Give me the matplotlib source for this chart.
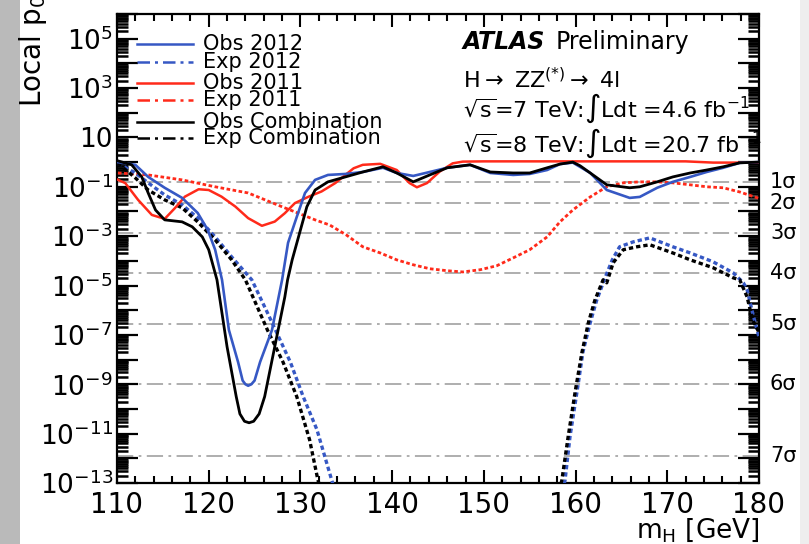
import numpy as np
import matplotlib
matplotlib.use("Agg")
import matplotlib.pyplot as plt
from matplotlib.ticker import FixedLocator, FuncFormatter, LogLocator, MultipleLocator, NullFormatter
from matplotlib.lines import Line2D
from matplotlib.patches import Rectangle

plt.rcParams['font.family'] = ['DejaVu Sans']
plt.rcParams['mathtext.default'] = 'regular'

# ---------------- data (log10 of local p0) ----------------
obs2012_m = [110.1, 112.0, 113.4, 115.2, 117.1, 118.8, 119.9, 120.7, 121.45, 122.2, 123.2, 123.7,
             124.0, 124.3, 124.65, 125.0, 125.6, 126.9, 128.0, 128.65, 129.6, 130.5, 131.6, 133.0,
             134.9, 136.8, 139.0, 140.5, 142.3, 144.1, 146.0, 148.5, 150.7, 153.2, 155.0, 156.9,
             158.3, 159.7, 161.6, 163.4, 165.9, 167.0, 168.9, 170.6, 172.5, 174.3, 176.1, 177.9,
             180.0]
obs2012_lp = [0.0, -0.11, -0.6, -1.04, -1.45, -2.06, -2.75, -3.55, -4.77, -6.8, -8.1, -8.85,
              -9.0, -9.06, -9.0, -8.85, -8.1, -6.8, -4.77, -3.27, -2.22, -1.25, -0.72, -0.52,
              -0.48, -0.40, -0.23, -0.44, -0.56, -0.40, -0.23, -0.11, -0.44, -0.52, -0.48, -0.32,
              -0.08, -0.02, -0.44, -1.13, -1.45, -1.41, -1.04, -0.8, -0.6, -0.4, -0.23, -0.03,
              0.0]

exp2012_m = [110.1, 112.0, 113.4, 115.2, 117.1, 118.8, 120.7, 122.5, 124.7, 126.4, 127.4, 128.9,
             130.3, 131.8, 133.4, 134.0,
             None,
             158.3, 158.85, 159.4, 160.2, 160.8, 161.6, 162.3, 163.2, 164.0, 164.8, 166.3, 168.1,
             170.6, 172.5, 175.0, 177.2, 178.3, 178.7, 179.3, 180.0]
exp2012_lp = [-0.05, -0.44, -0.84, -1.33, -1.73, -2.26, -3.03, -3.84, -4.77, -6.1, -6.9, -8.1,
              -9.5, -10.84, -12.87, -13.6,
              None,
              -13.6, -12.9, -11.1, -9.2, -7.7, -6.5, -5.6, -4.7, -3.96, -3.43, -3.23, -3.07,
              -3.43, -3.68, -4.04, -4.49, -4.89, -5.17, -6.1, -7.1]

obs2011_m = [110.0, 110.9, 112.3, 113.8, 115.2, 116.3, 117.4, 118.9, 120.0, 121.4, 122.9, 124.3,
             125.8, 127.2, 128.3, 129.4, 130.9, 132.3, 133.8, 134.9, 135.8, 136.8, 138.7, 140.5,
             141.9, 142.7, 143.8, 145.2, 146.6, 147.7, 150.0, 160.0, 172.0, 175.0, 180.0]
obs2011_lp = [-0.7, -0.85, -1.53, -2.14, -2.30, -1.87, -1.40, -1.10, -1.13, -1.40, -1.80, -2.27,
              -2.58, -2.41, -2.07, -1.66, -1.40, -1.19, -0.85, -0.52, -0.25, -0.11, -0.07, -0.32,
              -0.85, -1.02, -0.85, -0.38, -0.05, 0.02, 0.03, 0.03, 0.03, -0.02, -0.02]

exp2011_m = [110.1, 113.4, 117.1, 120.7, 124.3, 128.0, 131.6, 133.2, 135.0, 136.8, 138.7, 140.5,
             142.3, 144.1, 146.0, 147.7, 149.6, 151.4, 153.2, 155.0, 156.9, 158.3, 159.7, 161.6,
             163.4, 165.2, 167.0, 168.9, 170.6, 172.5, 174.3, 176.1, 177.9, 180.0]
exp2011_lp = [-0.44, -0.52, -0.72, -1.0, -1.25, -1.81, -2.34, -2.55, -2.95, -3.43, -3.68, -3.96,
              -4.16, -4.32, -4.40, -4.45, -4.36, -4.20, -3.88, -3.55, -3.03, -2.42, -1.94, -1.41,
              -1.0, -0.84, -0.80, -0.80, -0.84, -0.92, -1.0, -1.04, -1.21, -1.47]

obscomb_m = [110.1, 111.6, 112.7, 113.4, 114.2, 115.2, 117.1, 118.2, 119.3, 120.0, 120.9, 122.0,
             123.0, 123.4, 123.9, 124.4, 124.9, 125.5, 126.1, 127.2, 128.3, 128.6, 129.1, 130.0,
             130.7, 131.6, 133.0, 134.9, 136.8, 139.0, 140.5, 142.3, 144.1, 146.0, 148.5, 150.7,
             153.2, 155.0, 156.9, 158.3, 159.7, 160.5, 161.6, 163.4, 165.9, 167.0, 168.9, 170.6,
             172.5, 174.3, 176.1, 177.9, 180.0]
obscomb_lp = [0.05, -0.11, -0.6, -1.25, -1.94, -2.34, -2.42, -2.62, -3.03, -3.55, -4.77, -7.48,
              -9.5, -10.2, -10.5, -10.56, -10.5, -10.2, -9.5, -7.48, -5.46, -4.77, -3.96, -2.75,
              -1.81, -1.13, -0.8, -0.6, -0.4, -0.19, -0.44, -0.8, -0.52, -0.23, -0.11, -0.4,
              -0.44, -0.44, -0.23, -0.08, 0.0, -0.15, -0.44, -0.92, -1.04, -1.0, -0.8, -0.6,
              -0.44, -0.32, -0.19, -0.03, 0.0]

expcomb_m = [110.1, 112.0, 113.4, 115.2, 117.1, 118.8, 120.7, 122.5, 124.0, 126.4, 128.1, 129.6,
             131.0, 131.9, 132.5,
             None,
             158.0, 158.5, 159.2, 160.0, 160.7, 161.4, 162.1, 163.0, 163.4, 164.1, 165.2, 166.7,
             168.1, 170.6, 172.5, 175.0, 177.2, 177.9, 178.7, 179.3, 180.0]
expcomb_lp = [-0.05, -0.64, -1.13, -1.53, -1.85, -2.42, -3.15, -3.96, -4.77, -6.8, -8.1, -9.5,
              -11.25, -12.87, -13.6,
              None,
              -13.6, -12.9, -11.1, -9.2, -7.7, -6.5, -5.6, -4.77, -4.89, -4.08, -3.55, -3.43,
              -3.35, -3.68, -3.96, -4.28, -4.69, -4.77, -5.46, -6.4, -6.9]

sigma_labels = ['1σ', '2σ', '3σ', '4σ', '5σ', '6σ', '7σ']
sigma_p = [0.1587, 0.02275, 1.35e-3, 3.17e-5, 2.87e-7, 9.87e-10, 1.28e-12]

xticks = [110, 120, 130, 140, 150, 160, 170, 180]
legend_labels = ['Obs 2012', 'Exp 2012', 'Obs 2011', 'Exp 2011', 'Obs Combination', 'Exp Combination']


def to_p(lps):
    return [np.nan if v is None else 10.0 ** v for v in lps]


def to_m(ms):
    return [np.nan if v is None else v for v in ms]


# ---------------- figure ----------------
W, H = 809, 544
fig = plt.figure(figsize=(W / 100, H / 100), dpi=100)
fig.patch.set_facecolor('white')


def fx(x):
    return x / W


def fy(y):
    return 1 - y / H


fig.patches.append(Rectangle((0, 0), fx(20), 1, transform=fig.transFigure, facecolor='#bababa',
                             edgecolor='none', zorder=-10))
fig.patches.append(Rectangle((fx(800), 0), 1 - fx(800), 1, transform=fig.transFigure,
                             facecolor='#eeeeee', edgecolor='none', zorder=-10))

ax = fig.add_axes([fx(117), fy(483), fx(759) - fx(117), fy(14) - fy(483)])
ax.set_xlim(110, 180)
ax.set_yscale('log')
ax.set_ylim(1e-13, 1e6)

BLUE = '#3658c4'
RED = '#ff2a1a'
BLACK = '#000000'
dotted = (0, (1.3, 0.9))

for p in sigma_p:
    ax.axhline(p, color='#a8a8a8', lw=1.3, ls=(0, (9, 3, 1.5, 3)), zorder=1)

ax.plot(to_m(exp2011_m), to_p(exp2011_lp), color=RED, lw=2.0, ls=dotted, zorder=3)
ax.plot(to_m(exp2012_m), to_p(exp2012_lp), color=BLUE, lw=2.4, ls=dotted, zorder=3)
ax.plot(to_m(expcomb_m), to_p(expcomb_lp), color=BLACK, lw=2.4, ls=dotted, zorder=3)
ax.plot(obs2011_m, to_p(obs2011_lp), color=RED, lw=1.8, zorder=4)
ax.plot(obs2012_m, to_p(obs2012_lp), color=BLUE, lw=1.9, zorder=4)
ax.plot(obscomb_m, to_p(obscomb_lp), color=BLACK, lw=2.0, zorder=5)

# axes styling
for s in ax.spines.values():
    s.set_linewidth(1.6)
ax.xaxis.set_major_locator(FixedLocator(xticks))
ax.xaxis.set_minor_locator(MultipleLocator(2))
ax.set_xticklabels([str(t) for t in xticks])
ax.yaxis.set_major_locator(FixedLocator([10.0 ** k for k in range(-13, 7)]))
ax.yaxis.set_minor_locator(LogLocator(base=10, subs=np.arange(2, 10), numticks=100))
ax.yaxis.set_minor_formatter(NullFormatter())


def yfmt(v, pos):
    k = int(round(np.log10(v)))
    if k % 2 == 0 or k > 5:
        return ''
    if k == 1:
        return '10'
    return r'$10^{%d}$' % k


ax.yaxis.set_major_formatter(FuncFormatter(yfmt))
ax.tick_params(axis='x', which='major', direction='in', length=9.5, width=1.5, top=True,
               labelsize=20, pad=6)
ax.tick_params(axis='x', which='minor', direction='in', length=5, width=1.5, top=True)
ax.tick_params(axis='y', which='major', direction='in', length=15, width=1.6, right=True,
               labelsize=19, pad=3)
ax.tick_params(axis='y', which='minor', direction='in', length=8, width=1.8, right=True)

# sigma labels
for lab, p in zip(sigma_labels, sigma_p):
    ax.text(1.017, p, lab, transform=ax.get_yaxis_transform(), ha='left', va='center',
            fontsize=15, clip_on=False)

# axis titles
fig.text(fx(760), fy(544), r'm$_{H}$ [GeV]', ha='right', va='bottom', fontsize=19)
fig.text(fx(33), fy(107), r'Local p$_{0}$', rotation=90, ha='center', va='bottom', fontsize=20)

# legend (manual)
leg_rows = [44, 62, 83, 100, 122, 138]
leg_colors = [BLUE, BLUE, RED, RED, BLACK, BLACK]
leg_styles = ['-', (0, (5, 2, 1.2, 2)), '-', (0, (5, 2, 1.2, 2)), '-', (0, (5, 2, 1.2, 2))]
for yy, lab, c, st in zip(leg_rows, legend_labels, leg_colors, leg_styles):
    fig.add_artist(Line2D([fx(137), fx(193)], [fy(yy), fy(yy)], transform=fig.transFigure,
                          color=c, lw=1.8, ls=st))
    fig.text(fx(203), fy(yy), lab, ha='left', va='center', fontsize=15)

# ATLAS labels
fig.text(fx(463), fy(42), 'ATLAS', ha='left', va='center', fontsize=17, fontweight='bold',
         fontstyle='italic')
fig.text(fx(556), fy(42), 'Preliminary', ha='left', va='center', fontsize=17)
fig.text(fx(463), fy(80), r'H$\rightarrow$ ZZ$^{(*)}$$\rightarrow$ 4l', ha='left', va='center',
         fontsize=16)
fig.text(fx(463), fy(108), r'$\sqrt{s}$=7 TeV:$\int$Ldt =4.6 fb$^{-1}$', ha='left', va='center',
         fontsize=16)
fig.text(fx(463), fy(143), r'$\sqrt{s}$=8 TeV:$\int$Ldt =20.7 fb$^{-1}$', ha='left', va='center',
         fontsize=16)

fig.savefig('out.png', dpi=100)
